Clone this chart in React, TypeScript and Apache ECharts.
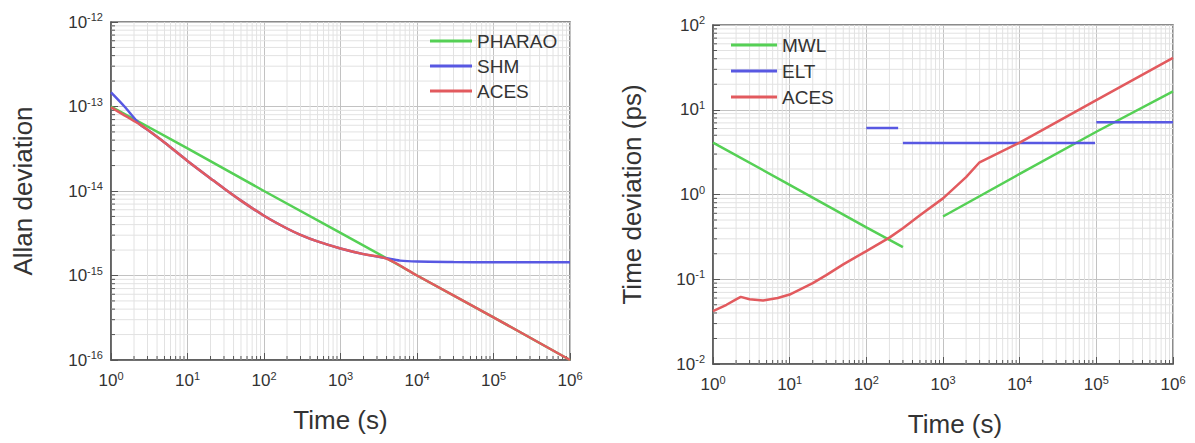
import React, { useEffect, useRef } from "react";
import * as echarts from "echarts";

const FONT = '"Liberation Sans", Arial, Helvetica, sans-serif';

// ---------- Left panel: Allan deviation ----------
const pharaoTau = [1, 10, 100, 1000, 4000, 10000, 100000, 1000000];
const pharaoAdev = [1.0e-13, 3.2e-14, 1.0e-14, 3.2e-15, 1.6e-15, 1.0e-15, 3.2e-16, 1.0e-16];

const shmTau = [1, 1.5, 2.4, 3, 5, 10, 20, 30, 50, 100, 200, 300, 500, 1000, 2000, 4000, 6000, 10000, 30000, 100000, 1000000];
const shmAdev = [1.47e-13, 1.0e-13, 6.1e-14, 5.3e-14, 3.75e-14, 2.27e-14, 1.41e-14, 1.07e-14, 7.7e-15, 5.1e-15, 3.6e-15, 3.03e-15, 2.53e-15, 2.09e-15, 1.79e-15, 1.6e-15, 1.5e-15, 1.46e-15, 1.44e-15, 1.43e-15, 1.43e-15];

const acesLTau = [1, 1.5, 2.4, 3, 5, 10, 20, 30, 50, 100, 200, 300, 500, 1000, 2000, 4000, 10000, 100000, 1000000];
const acesLAdev = [9.8e-14, 7.85e-14, 6.1e-14, 5.3e-14, 3.75e-14, 2.27e-14, 1.41e-14, 1.07e-14, 7.7e-15, 5.1e-15, 3.6e-15, 3.03e-15, 2.53e-15, 2.09e-15, 1.79e-15, 1.58e-15, 1.0e-15, 3.2e-16, 1.0e-16];

// ---------- Right panel: Time deviation (ps) ----------
const mwlTau1 = [1, 10, 100, 300];
const mwlTdev1 = [4.1, 1.3, 0.41, 0.24];
const mwlTau2 = [1000, 10000, 100000, 1000000];
const mwlTdev2 = [0.55, 1.75, 5.5, 16.5];

const eltTau1 = [100, 260];
const eltTdev1 = [6.1, 6.1];
const eltTau2 = [300, 96000];
const eltTdev2 = [4.05, 4.05];
const eltTau3 = [100000, 1000000];
const eltTdev3 = [7.1, 7.1];

const acesRTau = [1, 1.5, 2, 2.3, 3, 4.5, 7, 10, 20, 30, 50, 100, 200, 300, 500, 1000, 2000, 3000, 10000, 100000, 1000000];
const acesRTdev = [0.042, 0.05, 0.058, 0.062, 0.058, 0.056, 0.06, 0.066, 0.09, 0.112, 0.15, 0.215, 0.31, 0.4, 0.57, 0.9, 1.6, 2.4, 4.1, 13, 41];

// axis ranges (decade exponents)
const xExp = [0, 6];
const yExpL = [-16, -12];
const yExpR = [-2, 2];

const GREEN = "#55d055";
const BLUE = "#5858e2";
const RED = "#e25a5e";

function pairs(xs: number[], ys: number[]) {
  return xs.map((x, i) => [x, ys[i]]);
}
function withGaps(segs: number[][][]) {
  const out: any[] = [];
  segs.forEach((s, i) => {
    if (i > 0) out.push([s[0][0] * 0.97, "-"]);
    s.forEach((p) => out.push(p));
  });
  return out;
}
function minorValues(lo: number, hi: number) {
  const out: number[] = [];
  for (let e = lo; e < hi; e++) for (let m = 2; m <= 9; m++) out.push(m * Math.pow(10, e));
  return out;
}

const labelRich = {
  b: { fontSize: 17, color: "#333", fontFamily: FONT },
  s: { fontSize: 11, color: "#333", fontFamily: FONT, padding: [0, 0, 10, 0] },
};
const fmt = (v: number) => `{b|10}{s|${Math.round(Math.log10(v))}}`;

function minorX(idx: number, yMin: number, yMax: number) {
  return {
    type: "custom",
    xAxisIndex: idx,
    yAxisIndex: idx,
    silent: true,
    z: 1,
    encode: { x: 0, y: 1 },
    data: minorValues(xExp[0], xExp[1]).map((v) => [v, yMin]),
    renderItem: (_p: any, api: any) => {
      const v = api.value(0);
      const a = api.coord([v, yMin]);
      const b = api.coord([v, yMax]);
      return {
        type: "group",
        children: [
          { type: "line", shape: { x1: a[0], y1: a[1], x2: b[0], y2: b[1] }, style: { stroke: "#e2e2e2", lineWidth: 1 } },
          { type: "line", shape: { x1: a[0], y1: a[1], x2: a[0], y2: a[1] - 4 }, style: { stroke: "#555", lineWidth: 1 } },
        ],
      };
    },
  };
}
function minorY(idx: number, lo: number, hi: number) {
  const xMin = Math.pow(10, xExp[0]);
  const xMax = Math.pow(10, xExp[1]);
  return {
    type: "custom",
    xAxisIndex: idx,
    yAxisIndex: idx,
    silent: true,
    z: 1,
    encode: { x: 0, y: 1 },
    data: minorValues(lo, hi).map((v) => [xMin, v]),
    renderItem: (_p: any, api: any) => {
      const v = api.value(1);
      const a = api.coord([xMin, v]);
      const b = api.coord([xMax, v]);
      return {
        type: "group",
        children: [
          { type: "line", shape: { x1: a[0], y1: a[1], x2: b[0], y2: b[1] }, style: { stroke: "#e2e2e2", lineWidth: 1 } },
          { type: "line", shape: { x1: a[0], y1: a[1], x2: a[0] + 4, y2: a[1] }, style: { stroke: "#555", lineWidth: 1 } },
        ],
      };
    },
  };
}

function xAxisDef(idx: number, namePad: number) {
  return {
    type: "log",
    logBase: 10,
    gridIndex: idx,
    min: Math.pow(10, xExp[0]),
    max: Math.pow(10, xExp[1]),
    splitNumber: xExp[1] - xExp[0],
    name: "Time (s)",
    nameLocation: "middle",
    nameGap: 47,
    nameTextStyle: { fontSize: 26, color: "#333", fontFamily: FONT, padding: [0, 0, 0, namePad] },
    axisLine: { show: true, onZero: false, lineStyle: { color: "#555", width: 1.5 } },
    axisTick: { show: true, inside: true, length: 7, lineStyle: { color: "#555", width: 1 } },
    axisLabel: { formatter: fmt, rich: labelRich, margin: 10, showMinLabel: true, showMaxLabel: true },
    splitLine: { show: true, lineStyle: { color: "#c2c2c2", width: 1 } },
  };
}
function yAxisDef(idx: number, e: number[], name: string, gap: number) {
  return {
    type: "log",
    logBase: 10,
    gridIndex: idx,
    min: Math.pow(10, e[0]),
    max: Math.pow(10, e[1]),
    splitNumber: e[1] - e[0],
    name,
    nameLocation: "middle",
    nameGap: gap,
    nameTextStyle: { fontSize: 26, color: "#333", fontFamily: FONT },
    axisLine: { show: true, onZero: false, lineStyle: { color: "#555", width: 1.5 } },
    axisTick: { show: true, inside: true, length: 7, lineStyle: { color: "#555", width: 1 } },
    axisLabel: { formatter: fmt, rich: labelRich, margin: 8, showMinLabel: true, showMaxLabel: true },
    splitLine: { show: true, lineStyle: { color: "#c2c2c2", width: 1 } },
  };
}

function lineSeries(name: string, color: string, idx: number, data: any[], smooth: number | boolean = false) {
  return {
    type: "line",
    name,
    xAxisIndex: idx,
    yAxisIndex: idx,
    data,
    color,
    symbol: "none",
    smooth,
    connectNulls: false,
    z: 3,
    lineStyle: { color, width: 2.5 },
  };
}

export default function App() {
  const ref = useRef<HTMLDivElement>(null);
  useEffect(() => {
    if (!ref.current) return;
    const chart = echarts.init(ref.current, undefined, { renderer: "svg" });
    const legendText = { fontSize: 19, color: "#333", fontFamily: FONT, lineHeight: 20 };
    chart.setOption({
      animation: false,
      backgroundColor: "#fff",
      grid: [
        { left: 111, top: 22, width: 459, height: 338, show: true, borderColor: "#666", borderWidth: 1.5, backgroundColor: "transparent" },
        { left: 713, top: 25, width: 460, height: 339, show: true, borderColor: "#666", borderWidth: 1.5, backgroundColor: "transparent" },
      ],
      legend: [
        {
          data: ["PHARAO", "SHM", "ACES"],
          orient: "vertical",
          left: 425,
          top: 26,
          icon: "rect",
          itemWidth: 42,
          itemHeight: 3,
          itemGap: 5,
          textStyle: legendText,
          selectedMode: false,
        },
        {
          data: ["MWL", "ELT", "ACES"],
          orient: "vertical",
          left: 726,
          top: 30,
          icon: "rect",
          itemWidth: 46,
          itemHeight: 3,
          itemGap: 6,
          textStyle: legendText,
          selectedMode: false,
        },
      ],
      xAxis: [xAxisDef(0, 0), xAxisDef(1, 24)],
      yAxis: [yAxisDef(0, yExpL, "Allan deviation", 75), yAxisDef(1, yExpR, "Time deviation (ps)", 68)],
      series: [
        minorX(0, Math.pow(10, yExpL[0]), Math.pow(10, yExpL[1])),
        minorY(0, yExpL[0], yExpL[1]),
        minorX(1, Math.pow(10, yExpR[0]), Math.pow(10, yExpR[1])),
        minorY(1, yExpR[0], yExpR[1]),
        lineSeries("PHARAO", GREEN, 0, pairs(pharaoTau, pharaoAdev)),
        lineSeries("SHM", BLUE, 0, pairs(shmTau, shmAdev), 0.3),
        lineSeries("ACES", RED, 0, pairs(acesLTau, acesLAdev), 0.3),
        lineSeries("MWL", GREEN, 1, withGaps([pairs(mwlTau1, mwlTdev1), pairs(mwlTau2, mwlTdev2)])),
        lineSeries("ELT", BLUE, 1, withGaps([pairs(eltTau1, eltTdev1), pairs(eltTau2, eltTdev2), pairs(eltTau3, eltTdev3)])),
        lineSeries("ACES", RED, 1, pairs(acesRTau, acesRTdev)),
      ],
    });
    return () => chart.dispose();
  }, []);
  return <div ref={ref} style={{ position: "fixed", left: 0, top: 0, width: 1195, height: 443 }} />;
}
